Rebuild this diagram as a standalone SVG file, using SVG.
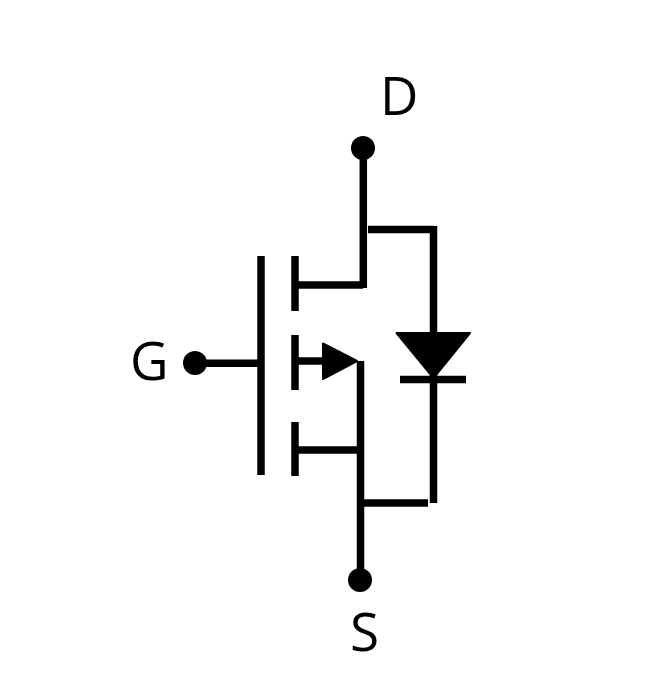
<svg xmlns="http://www.w3.org/2000/svg" width="651" height="677" viewBox="0 0 651 677">
  <style>
    .w { fill: none; stroke: #000; stroke-width: 7.5; stroke-linecap: butt; }
    .f { fill: #000; stroke: #000; stroke-width: 2; stroke-linejoin: round; }
    .t { font-family: "Open Sans", "Noto Sans", sans-serif; font-size: 53px; fill: #000; }
    .d { fill: #000; }
  </style>
  <rect width="651" height="677" fill="#fff"/>
  <g id="connectors">
    <path class="w" d="M363.3 148V288"/>
    <path class="w" d="M298 285H363"/>
    <path class="w" d="M368 229.5H433.5"/>
    <path class="w" d="M433.5 226V340"/>
    <path class="w" d="M433.5 375V503"/>
    <path class="w" d="M361 503H428"/>
    <path class="w" d="M360.5 361V580"/>
    <path class="w" d="M298 450H360"/>
    <path class="w" d="M298 361H325"/>
    <path class="w" d="M195 363.3H258"/>
  </g>
  <g id="gate-plate"><path class="w" d="M261 256V475"/></g>
  <g id="channel">
    <path class="w" d="M295 256V311"/>
    <path class="w" d="M295 335V390"/>
    <path class="w" d="M295 422V476"/>
  </g>
  <g id="body-arrow"><polygon class="f" points="323,343.500 357,361 323,379"/></g>
  <g id="diode">
    <polygon class="f" points="396.500,333 470,333 433.500,378"/>
    <path class="w" d="M400 379.500H466"/>
  </g>
  <g id="node-D"><circle class="d" cx="363" cy="148" r="12"/><text class="t" x="380" y="115">D</text></g>
  <g id="node-G"><circle class="d" cx="195" cy="363" r="12"/><text class="t" x="130" y="380">G</text></g>
  <g id="node-S"><circle class="d" cx="360" cy="580" r="12"/><text class="t" x="350" y="651">S</text></g>
</svg>
